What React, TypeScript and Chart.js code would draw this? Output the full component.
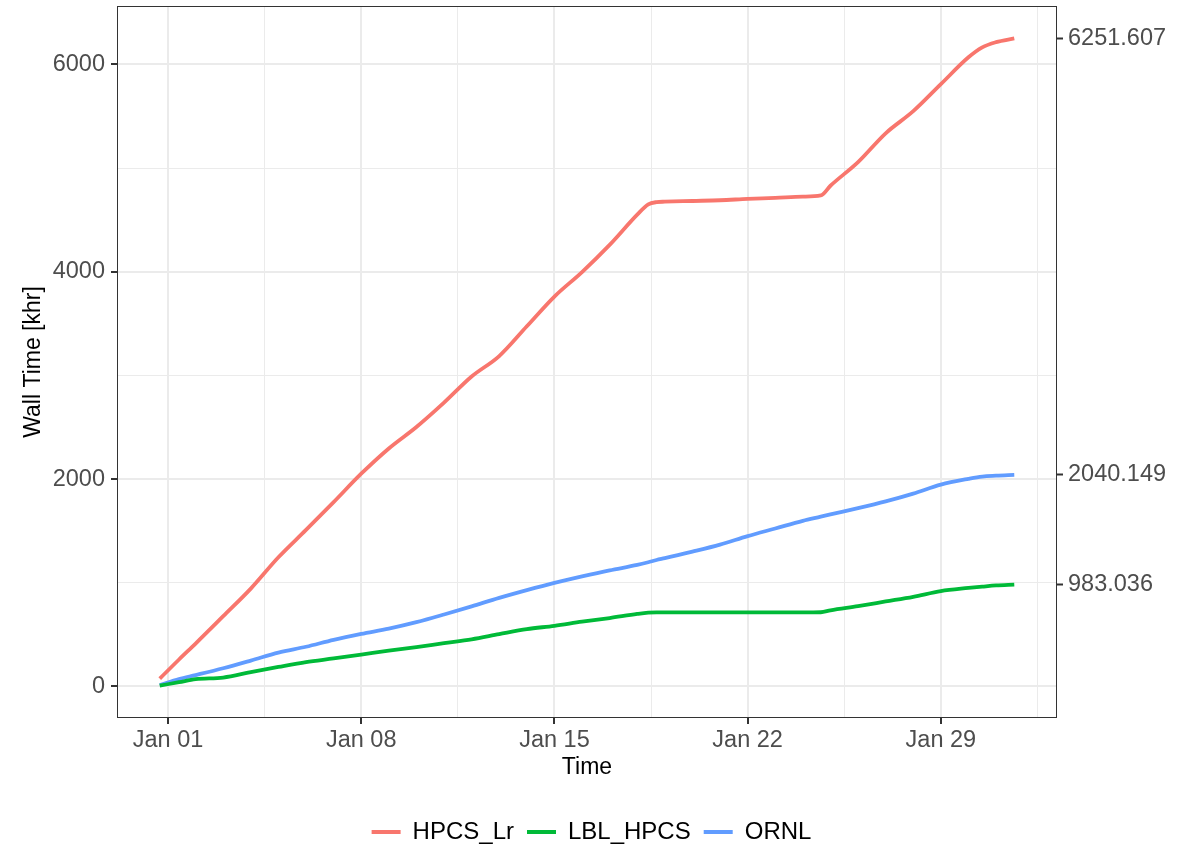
import React, { useEffect, useRef } from "react";
import { Chart, registerables } from "chart.js";

Chart.register(...registerables);

// Time in days since Jan 01 00:00
const dayOffsets = [-0.3, 0.4, 1, 2, 3, 4, 5, 6, 7, 8, 9, 10, 11, 12, 13, 14, 15, 16, 17, 17.4, 17.7, 18, 19, 20, 21, 22, 23, 23.65, 24, 25, 26, 27, 28, 29, 29.5, 30, 30.66];

const hpcsLr = [75, 260, 414, 678, 944, 1246, 1510, 1778, 2052, 2296, 2503, 2738, 2990, 3187, 3474, 3761, 3997, 4259, 4551, 4650, 4672, 4676, 4683, 4690, 4703, 4713, 4725, 4736, 4830, 5058, 5336, 5549, 5810, 6069, 6165, 6215, 6251.607];
const lblHpcs = [8, 41, 70, 86, 138, 188, 235, 270, 307, 345, 380, 418, 455, 505, 553, 585, 625, 660, 700, 712, 714, 714, 714, 714, 714, 714, 714, 716, 735, 775, 820, 865, 920, 950, 963, 975, 983.036];
const ornl = [14, 72, 110, 176, 250, 327, 383, 450, 507, 558, 620, 694, 773, 855, 930, 1000, 1062, 1120, 1172, 1198, 1220, 1237, 1300, 1368, 1450, 1524, 1598, 1638, 1660, 1720, 1785, 1860, 1947, 2003, 2025, 2033, 2040.149];

const seriesNames = ["HPCS_Lr", "LBL_HPCS", "ORNL"];
const seriesColors = ["#F8766D", "#00BA38", "#619CFF"];

const xTickDays = [0, 7, 14, 21, 28];
const xTickLabels = ["Jan 01", "Jan 08", "Jan 15", "Jan 22", "Jan 29"];
const xMinorDays = [3.5, 10.5, 17.5, 24.5, 31.5];
const yMajorTicks = [0, 2000, 4000, 6000];
const yMinorTicks = [1000, 3000, 5000];

const FONT = "'Liberation Sans', Arial, sans-serif";

export default function App() {
  const ref = useRef<HTMLCanvasElement>(null);

  useEffect(() => {
    document.body.style.margin = "0";
    const series = [hpcsLr, lblHpcs, ornl];
    const all = series.flat();
    const yLo = Math.min(...all);
    const yHi = Math.max(...all);
    const yPad = (yHi - yLo) * 0.05;
    const xLo = dayOffsets[0];
    const xHi = dayOffsets[dayOffsets.length - 1];
    const xPad = (xHi - xLo) * 0.05;
    const endValues = series.map((s) => s[s.length - 1]).sort((a, b) => a - b);

    const isMajorX = (v: any) => xTickDays.includes(v);
    const isMajorY = (v: any) => yMajorTicks.includes(v);
    const noPad = (s: any) => {
      s.paddingTop = 0;
      s.paddingBottom = 0;
      s.paddingLeft = 0;
      s.paddingRight = 0;
    };

    const panelBorder = {
      id: "panelBorder",
      afterDatasetsDraw(chart: any) {
        const { ctx, chartArea: a } = chart;
        ctx.save();
        ctx.strokeStyle = "#333333";
        ctx.lineWidth = 1;
        ctx.strokeRect(
          Math.round(a.left) + 0.5,
          Math.round(a.top) + 0.5,
          Math.round(a.right - a.left) - 1,
          Math.round(a.bottom - a.top) - 1
        );
        ctx.restore();
      },
    };

    const chart = new Chart(ref.current as HTMLCanvasElement, {
      type: "line",
      data: {
        datasets: series.map((s, i) => ({
          label: seriesNames[i],
          data: s.map((v, j) => ({ x: dayOffsets[j], y: v })),
          borderColor: seriesColors[i],
          backgroundColor: seriesColors[i],
          borderWidth: 3.8,
          pointRadius: 0,
          cubicInterpolationMode: "monotone" as const,
          borderJoinStyle: "round" as const,
          fill: false,
          yAxisID: "y",
        })),
      },
      options: {
        animation: false,
        responsive: false,
        layout: { padding: { top: 6, left: 0, right: 0, bottom: 0 } },
        plugins: {
          tooltip: { enabled: false },
          legend: {
            position: "bottom",
            align: "center",
            maxHeight: 41,
            labels: {
              boxWidth: 29,
              boxHeight: 4,
              padding: 13,
              color: "#000000",
              font: { family: FONT, size: 24 },
              generateLabels: (c: any) =>
                (Chart.defaults.plugins.legend.labels as any)
                  .generateLabels(c)
                  .map((l: any) => ({ ...l, lineWidth: 0 })),
            },
          },
        },
        scales: {
          x: {
            type: "linear",
            position: "bottom",
            min: xLo - xPad,
            max: xHi + xPad,
            afterBuildTicks: (s: any) => {
              s.ticks = [...xTickDays, ...xMinorDays]
                .sort((a, b) => a - b)
                .map((v) => ({ value: v }));
            },
            afterFit: (s: any) => {
              s.height = 89;
              noPad(s);
            },
            ticks: {
              autoSkip: false,
              maxRotation: 0,
              padding: 2,
              color: "#4D4D4D",
              font: { family: FONT, size: 23.5 },
              callback: (v: any) => {
                const i = xTickDays.indexOf(v);
                return i >= 0 ? xTickLabels[i] : "";
              },
            },
            grid: {
              color: "#EBEBEB",
              lineWidth: (c: any) => (isMajorX(c.tick?.value) ? 2 : 1),
              drawTicks: true,
              tickLength: 6,
              tickWidth: 2,
              tickColor: (c: any) => (isMajorX(c.tick?.value) ? "#333333" : "rgba(0,0,0,0)"),
            },
            border: { display: false },
            title: {
              display: true,
              text: "Time",
              color: "#000000",
              font: { family: FONT, size: 23 },
              padding: { top: 0, bottom: 26 },
            },
          },
          y: {
            type: "linear",
            position: "left",
            min: yLo - yPad,
            max: yHi + yPad,
            afterBuildTicks: (s: any) => {
              s.ticks = [...yMajorTicks, ...yMinorTicks]
                .sort((a, b) => a - b)
                .map((v) => ({ value: v }));
            },
            afterFit: (s: any) => {
              s.width = 117;
              noPad(s);
            },
            ticks: {
              padding: 6,
              color: "#4D4D4D",
              font: { family: FONT, size: 23.5 },
              callback: (v: any) => (isMajorY(v) ? String(v) : ""),
            },
            grid: {
              color: "#EBEBEB",
              lineWidth: (c: any) => (isMajorY(c.tick?.value) ? 2 : 1),
              drawTicks: true,
              tickLength: 6,
              tickWidth: 2,
              tickColor: (c: any) => (isMajorY(c.tick?.value) ? "#333333" : "rgba(0,0,0,0)"),
            },
            border: { display: false },
            title: {
              display: true,
              text: "Wall Time [khr]",
              color: "#000000",
              font: { family: FONT, size: 23 },
              padding: { top: 20, bottom: 0 },
            },
          },
          y2: {
            type: "linear",
            position: "right",
            min: yLo - yPad,
            max: yHi + yPad,
            afterBuildTicks: (s: any) => {
              s.ticks = endValues.map((v) => ({ value: v }));
            },
            afterFit: (s: any) => {
              s.width = 126;
              noPad(s);
            },
            ticks: {
              padding: 5,
              color: "#4D4D4D",
              font: { family: FONT, size: 23.5 },
              callback: (v: any) => Number(v).toFixed(3),
            },
            grid: {
              drawOnChartArea: false,
              drawTicks: true,
              tickLength: 6,
              tickWidth: 2,
              tickColor: "#333333",
            },
            border: { display: false },
          },
        },
      } as any,
      plugins: [panelBorder],
    });

    return () => chart.destroy();
  }, []);

  return (
    <div style={{ position: "fixed", left: 0, top: 0, width: 1183, height: 848, background: "#ffffff", overflow: "hidden" }}>
      <canvas ref={ref} width={1183} height={848} style={{ display: "block", width: 1183, height: 848 }} />
    </div>
  );
}
